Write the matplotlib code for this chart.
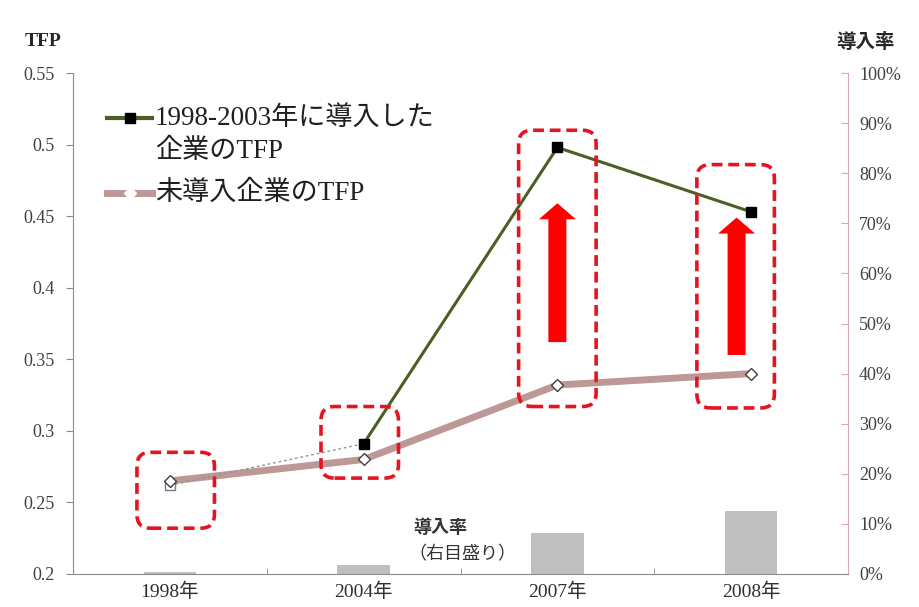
import numpy as np
import matplotlib.pyplot as plt
from matplotlib.lines import Line2D
from matplotlib.patches import FancyBboxPatch, FancyArrow

plt.rcParams['font.family'] = ['Liberation Serif', 'Noto Sans CJK JP']

years = ['1998年', '2004年', '2007年', '2008年']
tfp_adopted = [0.262, 0.291, 0.498, 0.453]     # 1998-2003年に導入した企業のTFP
tfp_not_adopted = [0.265, 0.280, 0.332, 0.340]  # 未導入企業のTFP
adoption_rate = [0.004, 0.018, 0.082, 0.126]    # 導入率（右目盛り）

# highlight boxes (x offset, y bottom, y top) and arrows (x offset, y start, y tip)
boxes = [(0.03, 0.232, 0.285), (-0.02, 0.267, 0.317), (0.0, 0.317, 0.510), (-0.08, 0.316, 0.486)]
arrows = [(2, 0.0, 0.362, 0.459), (3, -0.075, 0.353, 0.449)]

W, H = 919, 607
fig = plt.figure(figsize=(W / 100, H / 100), dpi=100)
ax_l, ax_b, ax_w, ax_h = 73, 33, 775, 501
ax = fig.add_axes([ax_l / W, ax_b / H, ax_w / W, ax_h / H])
ax2 = ax.twinx()
ax.set_zorder(ax2.get_zorder() + 1)
ax.patch.set_visible(False)

x = np.arange(len(years))
green = '#4B5F24'
pink = '#BE9797'
red = '#E4151F'

# bars on right axis
ax2.bar(x, adoption_rate, width=0.27, color='#BFBFBF', zorder=1)
ax2.set_ylim(0, 1)
ax2.set_yticks(np.linspace(0, 1, 11))
ax2.set_yticklabels([f'{int(v)}%' for v in np.linspace(0, 100, 11)])

# lines
ax.plot(x, tfp_not_adopted, color=pink, lw=5, zorder=3, solid_capstyle='butt')
ax.plot(x[:2], tfp_adopted[:2], color='#8A9A8A', lw=1.0, ls=(0, (2, 2)), zorder=4)
ax.plot(x[1:], tfp_adopted[1:], color=green, lw=2.2, zorder=4,
        marker='s', markersize=7, markerfacecolor='black', markeredgecolor='black')
ax.plot(x[:1], tfp_adopted[:1], ls='none', marker='s', markersize=7,
        markerfacecolor='white', markeredgecolor='#6E7890', zorder=4)
ax.plot(x, tfp_not_adopted, ls='none', marker='D', markersize=6.5,
        markerfacecolor='white', markeredgecolor='#404040', markeredgewidth=1, zorder=5)

ax.set_xlim(-0.5, 3.5)
ax.set_ylim(0.2, 0.55)
ax.set_yticks([0.2, 0.25, 0.3, 0.35, 0.4, 0.45, 0.5, 0.55])
ax.set_yticklabels(['0.2', '0.25', '0.3', '0.35', '0.4', '0.45', '0.5', '0.55'])
ax.set_xticks(x)
ax.set_xticklabels(years)
ax.set_xticks([0.5, 1.5, 2.5], minor=True)

for a in (ax, ax2):
    for s in ('top', 'left', 'right', 'bottom'):
        a.spines[s].set_visible(False)
ax.spines['left'].set_visible(True)
ax.spines['left'].set_color('#8C8C8C')
ax.spines['bottom'].set_visible(True)
ax.spines['bottom'].set_color('#8C8C8C')
ax2.spines['right'].set_visible(True)
ax2.spines['right'].set_color('#D8A8B8')

ax.tick_params(axis='y', direction='out', length=5, color='#8C8C8C',
               labelsize=13, labelcolor='#404040', pad=8)
ax.tick_params(axis='x', which='major', length=0, labelsize=14, labelcolor='#2E2E2E', pad=6)
ax.tick_params(axis='x', which='minor', direction='in', length=4, color='#8C8C8C')
ax2.tick_params(axis='y', direction='in', length=5, color='#D8A8B8',
                labelsize=13, labelcolor='#404040', pad=8)

# highlight boxes and arrows
aspect = (0.35 / ax_h) / (4 / ax_w)
for i, (dx, y0, y1) in enumerate(boxes):
    hw = 0.2
    box = FancyBboxPatch((i + dx - hw, y0), 2 * hw, y1 - y0,
                         boxstyle='round,pad=0,rounding_size=0.07', mutation_aspect=aspect,
                         fill=False, edgecolor=red, lw=2.6, ls=(0, (3, 1.6)), zorder=6)
    ax.add_patch(box)

for i, dx, y0, y1 in arrows:
    hl = 16 * 0.35 / ax_h
    arr = FancyArrow(i + dx, y0, 0, y1 - y0, width=18 * 4 / ax_w, head_width=37 * 4 / ax_w,
                     head_length=hl, length_includes_head=True, color='#FF0000', lw=0, zorder=6)
    ax.add_patch(arr)

# axis titles
fig.text(25 / W, 1 - 42 / H, 'TFP', fontsize=14, fontweight='bold', color='#262626', va='center')
fig.text(836 / W, 1 - 43 / H, '導入率', fontsize=14, fontweight='bold', color='#262626', va='center')

# legend drawn by hand
def fx(px):
    return px / W

def fy(py):
    return 1 - py / H

fig.add_artist(Line2D([fx(107), fx(152)], [fy(118), fy(118)], color=green, lw=3,
                      transform=fig.transFigure))
fig.add_artist(Line2D([fx(130)], [fy(118)], ls='none', marker='s', markersize=7,
                      markerfacecolor='black', markeredgecolor='black', transform=fig.transFigure))
fig.text(fx(155), fy(118), '1998-2003年に導入した', fontsize=19.5, color='#1F1F1F', va='center')
fig.text(fx(155), fy(151), '企業のTFP', fontsize=19.5, color='#1F1F1F', va='center')
fig.add_artist(Line2D([fx(107), fx(152)], [fy(193), fy(193)], color=pink, lw=5,
                      transform=fig.transFigure))
fig.add_artist(Line2D([fx(130)], [fy(193)], ls='none', marker='D', markersize=6.5,
                      markerfacecolor='white', markeredgecolor='white', transform=fig.transFigure))
fig.text(fx(155), fy(193), '未導入企業のTFP', fontsize=19.5, color='#1F1F1F', va='center')

# bar label
fig.text(fx(413), fy(528), '導入率', fontsize=13, fontweight='bold', color='#333333', va='center')
fig.text(fx(408), fy(555), '（右目盛り）', fontsize=13, color='#333333', va='center')

fig.savefig('out.png', dpi=100)
